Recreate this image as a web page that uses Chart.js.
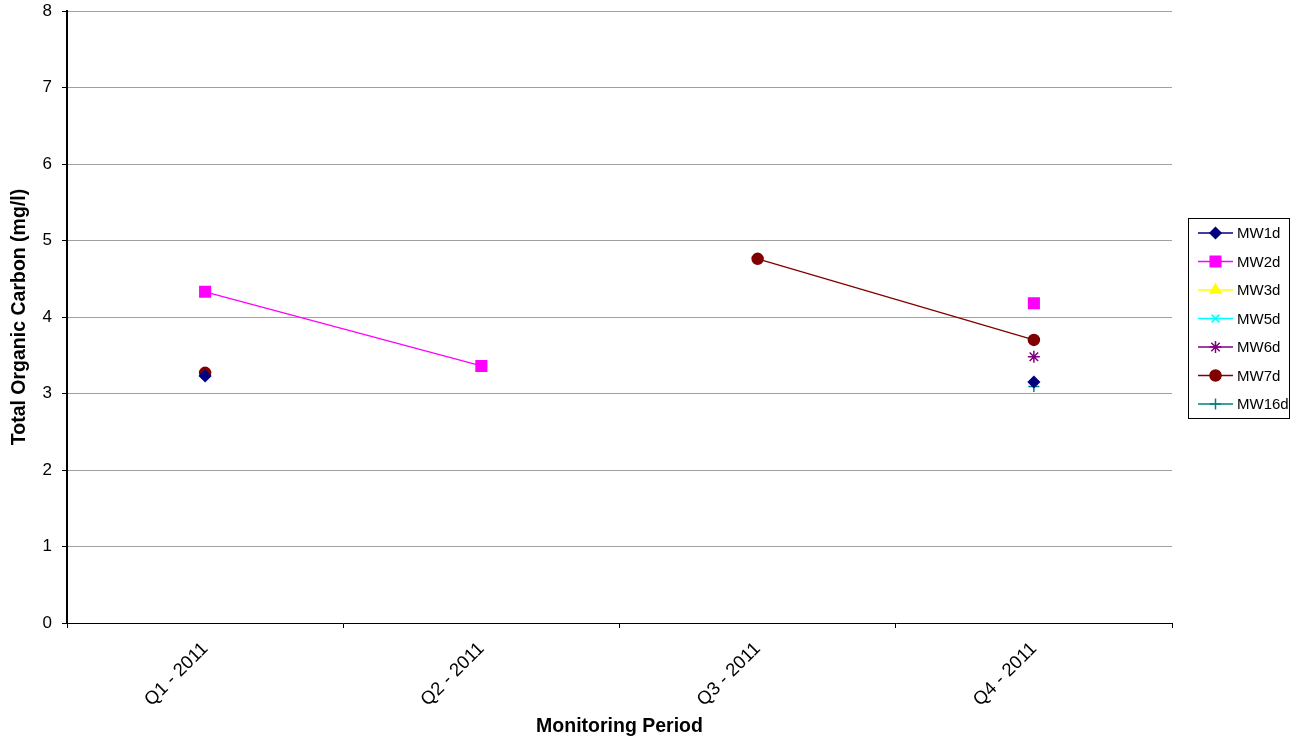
<!DOCTYPE html>
<html>
<head>
<meta charset="utf-8">
<script src="https://cdn.jsdelivr.net/npm/chart.js@4.4.0/dist/chart.umd.min.js"></script>
<style>
html,body{margin:0;padding:0;background:#fff;}
#wrap{width:1307px;height:740px;position:relative;}
</style>
</head>
<body>
<div id="wrap"><canvas id="c" width="1307" height="740"></canvas></div>
<script>
const categories = ["Q1 - 2011", "Q2 - 2011", "Q3 - 2011", "Q4 - 2011"];
const MW1d  = [3.23, null, null, 3.15];
const MW2d  = [4.33, 3.36, null, 4.18];
const MW3d  = [null, null, null, null];
const MW5d  = [null, null, null, null];
const MW6d  = [null, null, null, 3.48];
const MW7d  = [3.27, null, 4.76, 3.70];
const MW16d = [null, null, null, 3.09];
const yTicks = [0, 1, 2, 3, 4, 5, 6, 7, 8];

const FONT = "'Liberation Sans', Arial, sans-serif";

function ds(label, data, color, style, radius) {
  return {
    label, data,
    borderColor: color, backgroundColor: color,
    pointStyle: style, pointRadius: radius, pointHoverRadius: radius,
    pointBorderColor: color, pointBackgroundColor: color,
    pointBorderWidth: 1.5,
    borderWidth: 1.3, spanGaps: false, tension: 0
  };
}

const datasets = [
  ds("MW1d", MW1d, "#000080", "rectRot", 5.5),
  ds("MW2d", MW2d, "#FF00FF", "rect", 7.5),
  ds("MW3d", MW3d, "#FFFF00", "triangle", 6),
  ds("MW5d", MW5d, "#00FFFF", "crossRot", 5.5),
  ds("MW6d", MW6d, "#800080", "star", 6),
  ds("MW7d", MW7d, "#800000", "circle", 5.5),
  ds("MW16d", MW16d, "#008080", "cross", 5.5)
];

const legendPlugin = {
  id: "boxLegend",
  afterDraw(chart) {
    const ctx = chart.ctx;
    const x0 = 1188, y0 = 218, w = 101, h = 200;
    ctx.save();
    ctx.fillStyle = "#fff";
    ctx.fillRect(x0, y0, w, h);
    ctx.beginPath();
    ctx.rect(x0, y0, w, h);
    ctx.clip();
    ctx.font = "15px " + FONT;
    ctx.textBaseline = "middle";
    chart.data.datasets.forEach((d, i) => {
      const y = 233 + i * 28.5;
      ctx.strokeStyle = d.borderColor;
      ctx.lineWidth = 1.5;
      ctx.beginPath();
      ctx.moveTo(1198, y);
      ctx.lineTo(1233, y);
      ctx.stroke();
      ctx.fillStyle = d.pointBackgroundColor;
      ctx.strokeStyle = d.pointBorderColor;
      Chart.helpers.drawPoint(ctx, {pointStyle: d.pointStyle, radius: d.pointRadius, rotation: 0, borderWidth: 1.5}, 1215.5, y);
      ctx.fillStyle = "#000";
      ctx.fillText(d.label, 1237, y + 1);
    });
    ctx.restore();
    ctx.save();
    ctx.strokeStyle = "#000";
    ctx.lineWidth = 1;
    ctx.strokeRect(x0 + 0.5, y0 + 0.5, w, h);
    ctx.restore();
  }
};

new Chart(document.getElementById("c"), {
  type: "line",
  data: { labels: categories, datasets },
  plugins: [legendPlugin],
  options: {
    responsive: false,
    animation: false,
    devicePixelRatio: 1,
    layout: { padding: { top: 11, right: 135, left: 0, bottom: 0 } },
    plugins: { legend: { display: false }, tooltip: { enabled: false } },
    scales: {
      x: {
        type: "category",
        offset: true,
        afterFit(s) { s.height = 117; s.paddingLeft = 0; s.paddingRight = 0; },
        grid: { offset: true, drawOnChartArea: false, drawTicks: true, tickLength: 5, color: "#000", tickColor: "#000" },
        border: { display: true, color: "#000", width: 1 },
        ticks: { color: "#000", font: { family: FONT, size: 18.5 }, maxRotation: 45, minRotation: 45, padding: 10 },
        title: { display: true, text: "Monitoring Period", color: "#000", font: { family: FONT, size: 19.5, weight: "bold" }, padding: { top: 0, bottom: 2 } }
      },
      y: {
        min: 0, max: 8,
        afterFit(s) { s.width = 67; s.paddingTop = 0; s.paddingBottom = 0; },
        afterBuildTicks(s) { s.ticks = yTicks.map(v => ({ value: v })); },
        grid: { color: "#A0A0A0", lineWidth: 1, tickColor: "#000", tickLength: 5, drawTicks: true },
        border: { display: true, color: "#000", width: 2 },
        ticks: { color: "#000", font: { family: FONT, size: 17 }, padding: 10 },
        title: { display: true, text: "Total Organic Carbon (mg/l)", color: "#000", font: { family: FONT, size: 19.5, weight: "bold" }, padding: { top: 8, bottom: 0 } }
      }
    }
  }
});
</script>
</body>
</html>
